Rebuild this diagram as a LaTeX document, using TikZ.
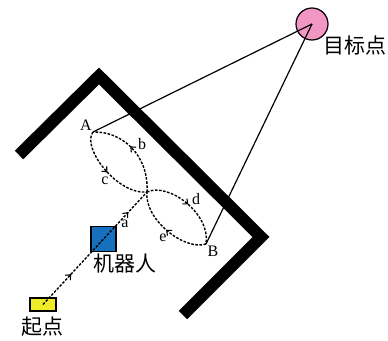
\documentclass[tikz,border=0pt]{standalone}
\usepackage{fontspec}
\setmainfont{Liberation Serif}
\newfontfamily\cjk{Noto Sans CJK SC}
\usetikzlibrary{arrows.meta,decorations.markings}
\definecolor{pinkc}{RGB}{242,150,196}
\definecolor{bluec}{RGB}{21,112,190}
\definecolor{yellowc}{RGB}{240,235,40}
\begin{document}
\begin{tikzpicture}[x=1pt,y=-1pt,
  wall/.style={line width=12pt, line join=miter},
  ray/.style={line width=1.2pt},
  dotline/.style={line width=1.4pt, dash pattern=on 2.6pt off 1.5pt},
  midarrow/.style={postaction={decorate, decoration={markings,
      mark=at position #1 with {\arrow{Straight Barb[length=4pt,width=7pt,line width=1.1pt]}}}}},
  lbl/.style={inner sep=0pt, font=\fontsize{16}{16}\selectfont},
  cjklbl/.style={inner sep=0pt, font=\cjk\fontsize{21}{21}\selectfont}]
\useasboundingbox (0,0) rectangle (388,340);
% walls
\draw[wall] (19,155) -- (99,76) -- (261,237) -- (183,315);
% nodes
\node[circle, draw, fill=pinkc, line width=1.2pt, minimum size=32pt, inner sep=0pt] (T) at (312,24) {};
\node[cjklbl, anchor=west] (Tl) at (323,46) {目标点};
\node[draw, fill=bluec, minimum size=25pt, inner sep=0pt, line width=1.3pt] (R) at (103.5,239) {};
\node[cjklbl] (Rl) at (125,264) {机器人};
\node[draw, fill=yellowc, minimum width=26pt, minimum height=13pt, inner sep=0pt, line width=1.2pt] (S) at (43,304.5) {};
\node[cjklbl] (Sl) at (42,327) {起点};
\coordinate (A) at (93,132);
\coordinate (B) at (206,244);
\coordinate (X) at (147,192);
\node[lbl] (Al) at (86,125) {A};
\node[lbl] (Bl) at (213,251) {B};
\node[lbl] (al) at (125,224) {a};
\node[lbl] (bl) at (142,144) {b};
\node[lbl] (cl) at (105,181) {c};
\node[lbl] (dl) at (196,199) {d};
\node[lbl] (el) at (163,238) {e};
% rays
\draw[ray] (A) -- (T.center);
\draw[ray] (B) -- (T.center);
% path
\draw[dotline, midarrow=0.27, midarrow=0.82] (S.center) -- (X);
\draw[dotline, midarrow=0.55] (X) .. controls (149,154) and (121,131) .. (A);
\draw[dotline, midarrow=0.5] (A) .. controls (81,147) and (117,195) .. (X);
\draw[dotline, midarrow=0.5] (X) .. controls (169,182) and (211,214) .. (B);
\draw[dotline, midarrow=0.5] (B) .. controls (184,251) and (144,219) .. (X);
\end{tikzpicture}
\end{document}
